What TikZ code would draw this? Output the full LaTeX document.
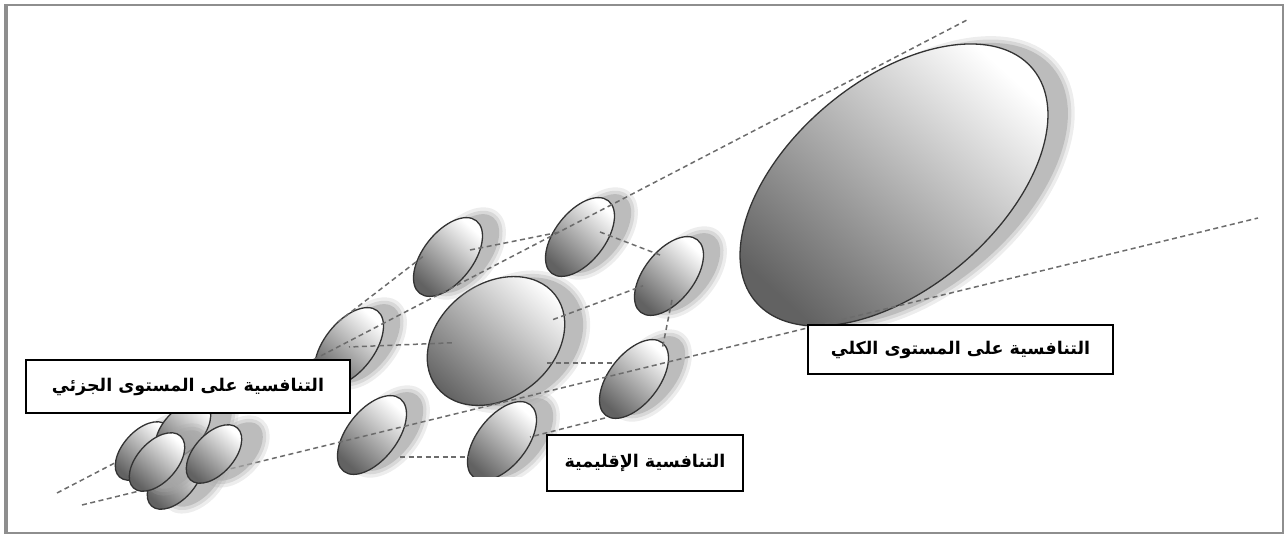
\documentclass[tikz,border=0pt]{standalone}
\usepackage{fontspec}
\usetikzlibrary{calc}
\newfontfamily\arabicfont[Script=Arabic]{DejaVu Sans}
\TeXXeTstate=1
\definecolor{rimgray}{HTML}{333333}
\definecolor{discdark}{HTML}{626262}
\definecolor{shadowgray}{HTML}{A6A6A6}
\definecolor{dashgray}{HTML}{6C6C6C}
\definecolor{framegray}{HTML}{8E8E8E}
\tikzset{
  discfill/.style={top color=white, bottom color=discdark, shading angle=-42,
    draw=rimgray, line width=1.3pt},
  discshadow/.style={fill=shadowgray},
  dashline/.style={dashgray, line width=1.5pt, dash pattern=on 5pt off 3.5pt},
  labelbox/.style={
    rectangle, draw=black, line width=1.6pt, fill=white,
    inner sep=0pt, font=\arabicfont\bfseries\fontsize{17.5}{21}\selectfont
  },
}
% #1 centre, #2/#3 radii, #4 tilt, #5/#6 shadow offset
\newcommand{\disc}[6]{%
  \foreach \grow/\op in {7/0.2,3.5/0.3,0/0.55}{%
    \fill[discshadow, opacity=\op, rotate around={#4:($(#1)+(#5,#6)$)}]
      ($(#1)+(#5,#6)$) ellipse [x radius=#2+\grow, y radius=#3+\grow];}%
  \path[discfill, rotate around={#4:(#1)}] (#1) ellipse [x radius=#2, y radius=#3];%
}

\begin{document}
\begin{tikzpicture}[x=1pt, y=1pt]
  \useasboundingbox (0,0) rectangle (1286,536);

  % centres of the discs
  \coordinate (big) at (894,351);
  \coordinate (med) at (496,195);
  \coordinate (tl) at (448,279);
  \coordinate (tm) at (580,299);
  \coordinate (rt) at (669,260);
  \coordinate (rb) at (634,157);
  \coordinate (bm) at (502,95);
  \coordinate (bl) at (372,101);
  \coordinate (lf) at (349,189);
  \coordinate (mA) at (143,85);
  \coordinate (mE) at (175,56);
  \coordinate (mB) at (183,106);
  \coordinate (mC) at (157,74);
  \coordinate (mD) at (214,82);
  % ends of the two long guide lines
  \coordinate (upA) at (57,43);
  \coordinate (upB) at (967,516);
  \coordinate (loA) at (82,31);
  \coordinate (loB) at (1258,318);

  % macro level
  \disc{big}{181}{104}{40}{16}{-12}

  % regional ring
  \disc{med}{75}{57}{38}{14}{-12}
  \foreach \c in {tl,tm,rt,rb,bl,lf}{
    \disc{\c}{46}{25}{52}{13}{-11}
  }
  \begin{scope}
    \clip (0,60) rectangle (1286,536);
    \disc{bm}{46}{25}{52}{13}{-11}
  \end{scope}

  % guide lines
  \draw[dashline] (upA) -- (upB);
  \draw[dashline] (loA) -- (loB);
  \draw[dashline] ($(lf)+(-11,25)$) -- ($(tl)+(-23,2)$);
  \draw[dashline] ($(tl)+(22,7)$) -- ($(tm)+(-20,5)$);
  \draw[dashline] ($(tm)+(20,5)$) -- ($(rt)+(-9,21)$);
  \draw[dashline] ($(rt)+(3,-24)$) -- ($(rb)+(28,29)$);
  \draw[dashline] ($(rb)+(-29,-39)$) -- ($(bm)+(28,4)$);
  \draw[dashline] ($(bl)+(28,-22)$) -- ($(bm)+(-32,-16)$);
  \draw[dashline] ($(med)!.3!(lf)$) -- (lf);
  \draw[dashline] ($(med)!.33!(rt)$) -- ($(med)!.85!(rt)$);
  \draw[dashline] ($(med)+(51,-22)$) -- ($(rb)+(-22,16)$);

  % micro cluster
  \foreach \c in {mA,mE,mB,mC,mD}{
    \disc{\c}{35}{20}{48}{16}{-14}
  }

  % labels
  \node[labelbox, minimum width=324pt, minimum height=53pt] (micro) at (188,149.5)
    {\beginR التنافسية على المستوى الجزئي\endR};
  \node[labelbox, minimum width=196pt, minimum height=56pt] (regional) at (645,73)
    {\beginR التنافسية الإقليمية\endR};
  \node[labelbox, minimum width=305pt, minimum height=49pt] (macro) at (960.5,186.5)
    {\beginR التنافسية على المستوى الكلي\endR};

  % frame
  \draw[framegray, line width=2pt] (5,3) rectangle (1283,531);
  \draw[framegray, line width=3pt] (6,3) -- (6,531);
\end{tikzpicture}
\end{document}
